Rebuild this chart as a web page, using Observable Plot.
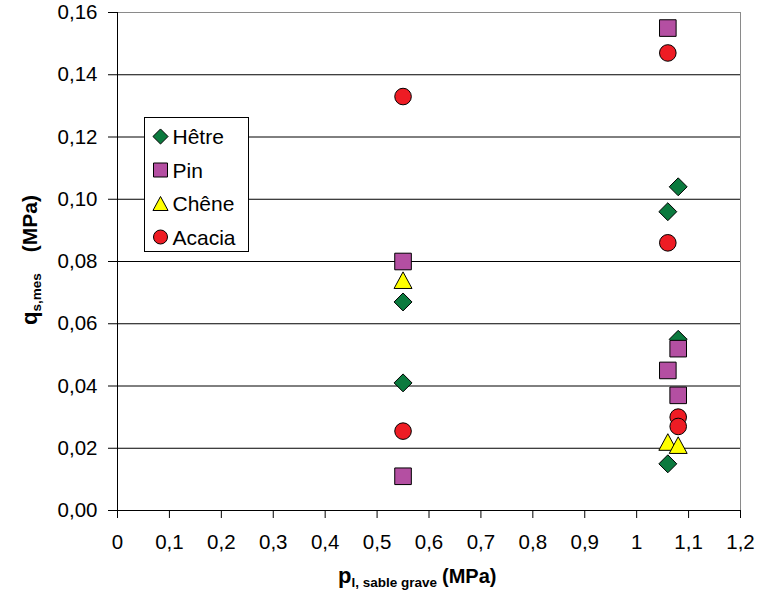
<!DOCTYPE html>
<html>
<head>
<meta charset="utf-8">
<script src="https://cdn.jsdelivr.net/npm/d3@7"></script>
<script src="https://cdn.jsdelivr.net/npm/@observablehq/plot@0.6"></script>
<style>
  body { margin: 0; background: #fff; font-family: "Liberation Sans", Arial, sans-serif; }
  #chart { position: relative; width: 761px; height: 591px; }
</style>
</head>
<body>
<div id="chart"></div>
<script>
// Measured end-bearing stress per wood species vs. limit pressure of the gravel sand
const seriesNames = ["Hêtre", "Pin", "Chêne", "Acacia"];
const seriesFills = ["#0b7a3e", "#b44fa2", "#ffff00", "#ee1c24"];

const hetreX  = [0.55, 0.55, 1.06, 1.08, 1.08, 1.06];
const hetreY  = [0.067, 0.041, 0.096, 0.104, 0.055, 0.015];
const pinX    = [0.55, 0.55, 1.06, 1.08, 1.06, 1.08];
const pinY    = [0.080, 0.011, 0.155, 0.052, 0.045, 0.037];
const cheneX  = [0.55, 1.06, 1.08];
const cheneY  = [0.074, 0.022, 0.021];
const acaciaX = [0.55, 0.55, 1.06, 1.06, 1.08, 1.08];
const acaciaY = [0.133, 0.0255, 0.147, 0.086, 0.030, 0.027];

const xTicks = [0, 0.1, 0.2, 0.3, 0.4, 0.5, 0.6, 0.7, 0.8, 0.9, 1, 1.1, 1.2];
const yTicks = [0, 0.02, 0.04, 0.06, 0.08, 0.10, 0.12, 0.14, 0.16];

// Marker shapes; "size" is π·r², so r is recovered from it
const rOf = (size) => Math.sqrt(size / Math.PI);
const symbols = [
  { draw(ctx, size) { const r = rOf(size) * 1.08; ctx.moveTo(0, -r); ctx.lineTo(r, 0); ctx.lineTo(0, r); ctx.lineTo(-r, 0); ctx.closePath(); } },
  { draw(ctx, size) { const r = rOf(size); ctx.rect(-r, -r, 2 * r, 2 * r); } },
  { draw(ctx, size) { const r = rOf(size), w = r * 1.08; ctx.moveTo(0, -r); ctx.lineTo(w, r); ctx.lineTo(-w, r); ctx.closePath(); } },
  { draw(ctx, size) { const r = rOf(size); ctx.moveTo(r, 0); ctx.arc(0, 0, r, 0, 2 * Math.PI); } }
];

const seriesData = [
  hetreX.map((x, i) => ({ x, y: hetreY[i] })),
  pinX.map((x, i) => ({ x, y: pinY[i] })),
  cheneX.map((x, i) => ({ x, y: cheneY[i] })),
  acaciaX.map((x, i) => ({ x, y: acaciaY[i] }))
];

const fmtY = (d) => d.toFixed(2).replace(".", ",");
const fmtX = (d) => String(+d.toFixed(1)).replace(".", ",");

const font = "'Liberation Sans', Arial, sans-serif";

const plot = Plot.plot({
  width: 761,
  height: 591,
  marginLeft: 117,
  marginRight: 21,
  marginTop: 12,
  marginBottom: 81,
  style: { fontFamily: font, fontSize: "20.5px", color: "#000", background: "#fff" },
  x: { domain: [0, 1.2], ticks: xTicks, label: null },
  y: { domain: [0, 0.16], ticks: yTicks, label: null },
  marks: [
    Plot.frame({ stroke: "#8a8a8a" }),
    Plot.ruleY(yTicks.filter((d) => d > 0 && d < 0.16), { stroke: "#000", strokeWidth: 1 }),
    Plot.ruleX([0], { stroke: "#000" }),
    Plot.ruleY([0], { stroke: "#000" }),
    Plot.axisY({ ticks: yTicks, tickFormat: fmtY, tickSize: 9, tickPadding: 11, fontSize: 20.5, stroke: "#000" }),
    Plot.axisX({ ticks: xTicks, tickFormat: fmtX, tickSize: 8, tickPadding: 16, fontSize: 20.5, stroke: "#000" }),
    ...seriesData.map((data, k) =>
      Plot.dot(data, { x: "x", y: "y", r: 8.3, symbol: symbols[k], fill: seriesFills[k], stroke: "#000", strokeWidth: 1, fillOpacity: 1 })
    )
  ]
});

document.getElementById("chart").appendChild(plot);

const svg = d3.select(plot);

// Y axis title: q with subscript "s,mes", then (MPa)
const yt = svg.append("text")
  .attr("transform", "translate(37,325) rotate(-90)")
  .attr("text-anchor", "start")
  .attr("font-family", font).attr("font-weight", "bold").attr("fill", "#000");
yt.append("tspan").attr("font-size", 22).text("q");
yt.append("tspan").attr("font-size", 13.5).attr("dy", 4).text("s,mes");
yt.append("tspan").attr("font-size", 21).attr("dy", -4).attr("dx", 21).text("(MPa)");

// X axis title: p with subscript "l, sable grave", then (MPa)
const xt = svg.append("text")
  .attr("x", 338).attr("y", 583)
  .attr("text-anchor", "start")
  .attr("font-family", font).attr("font-weight", "bold").attr("fill", "#000");
xt.append("tspan").attr("font-size", 22).text("p");
xt.append("tspan").attr("font-size", 13.5).attr("dy", 4).text("l, sable grave");
xt.append("tspan").attr("font-size", 20).attr("dy", -4).attr("dx", 5).text("(MPa)");

// Legend box inside the plot area
const lg = svg.append("g").attr("transform", "translate(144.5,117.5)");
lg.append("rect").attr("width", 104).attr("height", 134).attr("fill", "#fff").attr("stroke", "#000");
seriesNames.forEach((name, k) => {
  const cy = 19 + k * 33.5;
  lg.append("path")
    .attr("transform", `translate(16,${cy})`)
    .attr("d", d3.symbol(symbols[k], Math.PI * 7 * 7)())
    .attr("fill", seriesFills[k]).attr("stroke", "#000");
  lg.append("text")
    .attr("x", 28).attr("y", cy).attr("dy", "0.36em")
    .attr("text-anchor", "start")
    .attr("font-size", 21).attr("font-family", font).attr("fill", "#000")
    .text(name);
});
</script>
</body>
</html>
